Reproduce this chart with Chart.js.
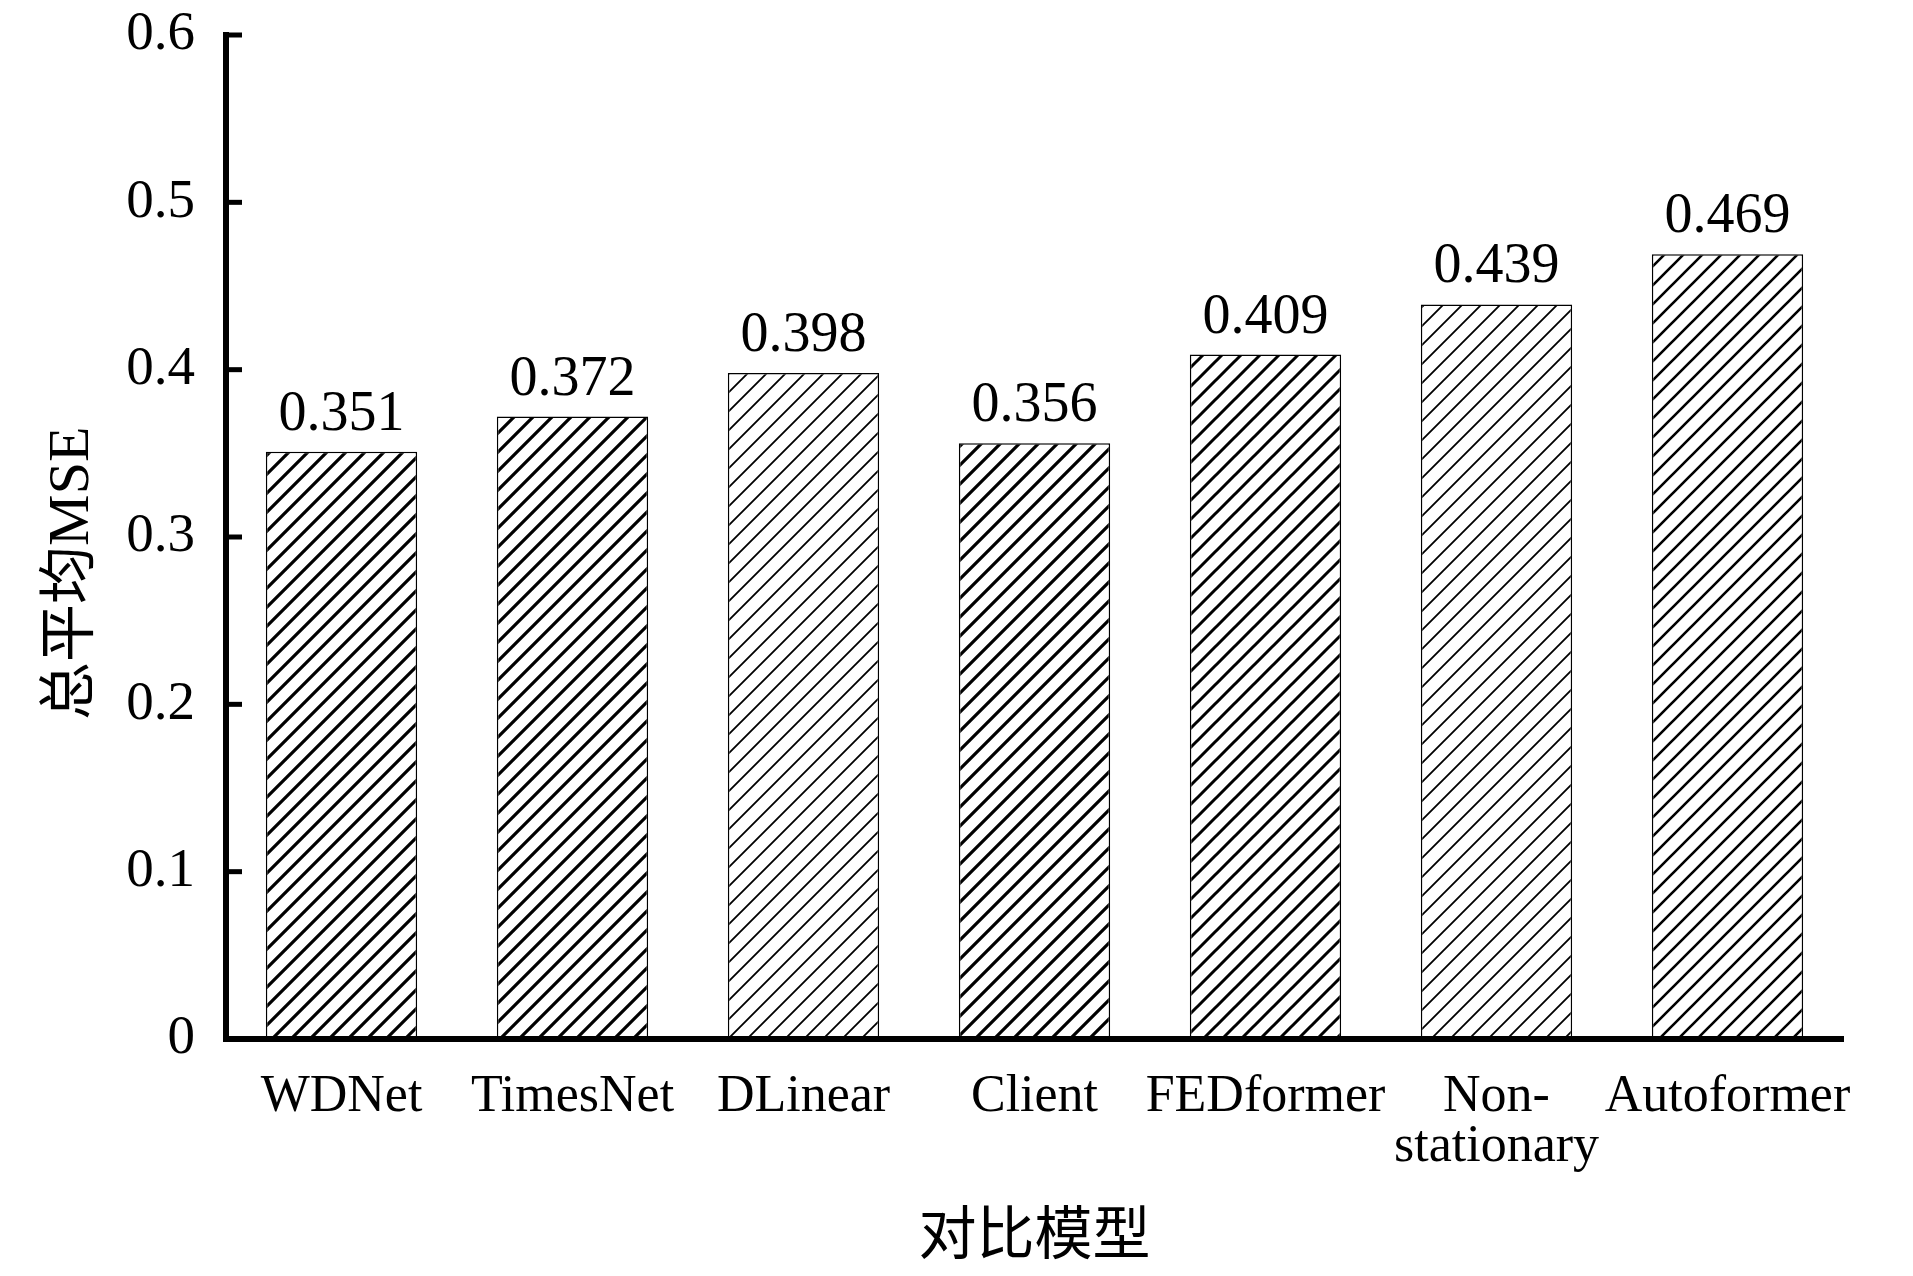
<!DOCTYPE html>
<html lang="zh">
<head>
<meta charset="UTF-8">
<title>对比模型 MSE</title>
<script src="https://cdn.jsdelivr.net/npm/chart.js@4.4.0/dist/chart.umd.min.js"></script>
<style>
  html, body { margin: 0; padding: 0; background: #fff; }
  #wrap { width: 1913px; height: 1276px; position: relative; }
</style>
</head>
<body>
<div id="wrap"><canvas id="bar-chart"></canvas></div>
<script>
const models = ['WDNet', 'TimesNet', 'DLinear', 'Client', 'FEDformer', ['Non-', 'stationary'], 'Autoformer'];
const mseValues = [0.351, 0.372, 0.398, 0.356, 0.409, 0.439, 0.469];
const yMin = 0;
const yMax = 0.6;
const yStep = 0.1;

// hatch stroke width per bar (some bars are drawn lighter in the original)
const hatchWidths = [3.2, 3.2, 1.8, 3.2, 3, 1.8, 2.6];

const serif = '"Liberation Serif", "Noto Sans CJK SC", serif';

function hatch(lw) {
  const s = 19;
  const c = document.createElement('canvas');
  c.width = s; c.height = s;
  const g = c.getContext('2d');
  g.fillStyle = '#fff';
  g.fillRect(0, 0, s, s);
  g.strokeStyle = '#000';
  g.lineWidth = lw;
  g.beginPath();
  g.moveTo(0, s); g.lineTo(s, 0);
  g.moveTo(-s / 2, s / 2); g.lineTo(s / 2, -s / 2);
  g.moveTo(s / 2, s * 1.5); g.lineTo(s * 1.5, s / 2);
  g.stroke();
  return g.createPattern(c, 'repeat');
}

// value above each bar
const valueLabels = {
  id: 'valueLabels',
  afterDatasetsDraw(chart) {
    const ctx = chart.ctx;
    const meta = chart.getDatasetMeta(0);
    ctx.save();
    ctx.font = '56px ' + serif;
    ctx.fillStyle = '#000';
    ctx.textAlign = 'center';
    ctx.textBaseline = 'alphabetic';
    meta.data.forEach((bar, i) => {
      ctx.fillText(mseValues[i].toFixed(3), bar.x, bar.y - 22);
    });
    ctx.restore();
  }
};

// short tick marks pointing into the plot
const innerTicks = {
  id: 'innerTicks',
  afterDraw(chart) {
    const y = chart.scales.y;
    const ctx = chart.ctx;
    ctx.save();
    ctx.strokeStyle = '#000';
    ctx.lineWidth = 5;
    y.ticks.forEach(t => {
      if (t.value === 0) return;
      const py = y.getPixelForValue(t.value);
      ctx.beginPath();
      ctx.moveTo(y.right - 3, py);
      ctx.lineTo(y.right + 16, py);
      ctx.stroke();
    });
    ctx.restore();
  }
};

new Chart(document.getElementById('bar-chart'), {
  type: 'bar',
  data: {
    labels: models,
    datasets: [{
      data: mseValues,
      backgroundColor: hatchWidths.map(hatch),
      borderColor: '#000',
      borderWidth: 1.5,
      borderSkipped: 'bottom',
      categoryPercentage: 1,
      barPercentage: 0.655
    }]
  },
  options: {
    responsive: true,
    maintainAspectRatio: false,
    animation: false,
    layout: { padding: { top: 35, right: 70, left: 0, bottom: 0 } },
    plugins: {
      legend: { display: false },
      tooltip: { enabled: false }
    },
    scales: {
      x: {
        grid: { display: false, drawTicks: false },
        border: { display: true, color: '#000', width: 6, z: 1 },
        ticks: {
          color: '#000',
          padding: 33,
          maxRotation: 0,
          autoSkip: false,
          font: { family: serif, size: 52, lineHeight: 0.96 }
        },
        title: {
          display: true,
          text: '对比模型',
          color: '#000',
          font: { family: serif, size: 58, lineHeight: 1.2 },
          padding: { top: 0, bottom: 2 }
        },
        afterFit(s) { s.height = 237; }
      },
      y: {
        min: yMin,
        max: yMax,
        grid: { display: false, drawTicks: false },
        border: { display: true, color: '#000', width: 6, z: 1 },
        ticks: {
          stepSize: yStep,
          color: '#000',
          padding: 31,
          font: { family: serif, size: 55 },
          callback: v => String(Number(v.toFixed(1)))
        },
        title: {
          display: true,
          text: '总平均MSE     ',
          color: '#000',
          font: { family: serif, size: 58, lineHeight: 1.2 },
          padding: { top: 38, bottom: 0 }
        },
        afterFit(s) {
          s.width = 226;
          s.paddingTop = 0;
          s.paddingBottom = 0;
        }
      }
    }
  },
  plugins: [valueLabels, innerTicks]
});
</script>
</body>
</html>
